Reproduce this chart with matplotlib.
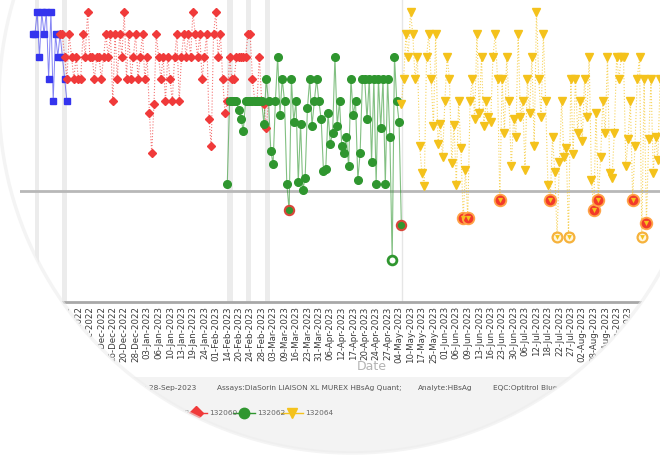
import matplotlib
matplotlib.use('Agg')
import numpy as np
import matplotlib.pyplot as plt
from matplotlib.path import Path
from matplotlib.patches import PathPatch, Rectangle
from matplotlib.lines import Line2D

# QC results per lot, in SD-like units (0 = the grey limit line)
blue_vals = [7, 7, 8, 6, 8, 7, 8, 5, 8, 4, 7, 6, 7, 6, 5, 4]
red_vals = [7, 7, 6, 5, 7, 6, 5, 6, 5, 5,
            7, 6, 8, 6, 6, 5, 6, 6, 5, 6,
            7, 6, 7, 4, 7, 5, 7, 6, 8, 5,
            7, 5, 6, 7, 5, 6, 7, 5, 6, 3.5,
            1.7, 3.9, 7, 6, 5, 6, 4, 6, 5, 4,
            6, 7, 4, 6, 7, 6, 7, 6, 8, 7,
            6, 7, 5, 6, 7, 3.2, 2.0, 7, 8, 6,
            7, 5, 3.5, 4, 6, 5, 5, 6, 6, 6,
            6, 6, 7, 7, 5, 4, 4, 6, 4, 3.9,
            2.8, 4]
green_vals = [0.3, 4, 4, 4, 4, 3.6, 3.2, 2.7, 4, 4,
              4, 4, 4, 4, 4, 4, 3.0, 5, 4, 1.8,
              1.2, 4, 6, 3.4, 5, 4, 0.3, -0.85, 5, 3.1,
              4, 0.4, 3.0, 0.05, 0.6, 3.7, 5, 2.9, 4, 5,
              4, 3.2, 0.9, 1.0, 3.5, 2.1, 2.6, 6, 2.9, 4,
              2.0, 1.7, 2.4, 1.1, 5, 3.4, 4, 0.5, 1.7, 5,
              5, 3.2, 5, 1.3, 5, 0.3, 5, 2.8, 5, 0.3,
              5, 2.4, -3.1, 6, 4, 3.1, -1.5]
yellow_vals = [3.9, 5, 7, 6, 8, 7, 5, 6, 2.0, 0.8,
               0.2, 6, 7, 5, 2.9, 7, 2.1, 3.0, 1.5, 4,
               6, 5, 1.25, 2.95, 0.27, 4, 1.9, -1.2, 0.94, -1.2,
               4, 5, 3.2, 7, 3.5, 6, 2.9, 4, 3.3, 3.1,
               6, 7, 5, -0.4, 5, 2.6, 6, 4, 1.1, 3.2,
               2.4, 7, 3.3, 4, 0.94, 5, 3.5, 6, 2.0, 8,
               5, 3.3, 7, 4, 0.27, -0.4, 2.4, 0.85, -2.05, 1.3,
               4, 1.5, 1.9, -2.05, 5, 1.65, 5, 2.6, 4, 2.25,
               5, 3.3, 6, 0.5, -0.85, 3.5, -0.4, 1.5, 4, 2.6,
               6, 0.8, 0.6, 2.6, 6, 5, 6, 6, 1.1, 2.3,
               4, -0.4, 2.0, 5, 6, -2.05, 5, -1.45, 2.3, 5,
               0.8, 2.4, 1.4, 5]
blue_start, red_start, green_start, yellow_start = 5, 17, 90, 166
lot_names = ['132058', '132060', '132062', '132064']

date_labels = ['02-Dec-2022', '06-Dec-2022', '09-Dec-2022', '13-Dec-2022', '16-Dec-2022',
               '20-Dec-2022', '28-Dec-2022', '03-Jan-2023', '06-Jan-2023', '10-Jan-2023',
               '13-Jan-2023', '19-Jan-2023', '24-Jan-2023', '01-Feb-2023', '14-Feb-2023',
               '20-Feb-2023', '24-Feb-2023', '28-Feb-2023', '03-Mar-2023', '09-Mar-2023',
               '16-Mar-2023', '23-Mar-2023', '31-Mar-2023', '06-Apr-2023', '12-Apr-2023',
               '17-Apr-2023', '20-Apr-2023', '24-Apr-2023', '27-Apr-2023', '04-May-2023',
               '10-May-2023', '17-May-2023', '25-May-2023', '01-Jun-2023', '06-Jun-2023',
               '09-Jun-2023', '13-Jun-2023', '16-Jun-2023', '23-Jun-2023', '30-Jun-2023',
               '06-Jul-2023', '12-Jul-2023', '18-Jul-2023', '22-Jul-2023', '27-Jul-2023',
               '02-Aug-2023', '08-Aug-2023', '11-Aug-2023', '16-Aug-2023', '22-Aug-2023']
event_runs = [(6, 8), (18, 20), (90, 92.5), (98, 100.5), (106.5, 108.5)]
lot_change_run = 166.3
limit_value = 0.0

W, H = 660, 459
fig = plt.figure(figsize=(W / 100, H / 100), dpi=100)
fig.patch.set_facecolor('white')
ax = fig.add_axes([20 / W, 1 - 302 / H, 650 / W, 302 / H])
ax.set_xlim(-0.5, 283.3)
ax.set_ylim(-4.96, 8.53)

for a, b in event_runs:
    ax.axvspan(a, b, color='#ececec', lw=0, zorder=0)
ax.axvline(lot_change_run, color='#e6e6e6', lw=1, zorder=0)
ax.axhline(limit_value, color='#b8b8b8', lw=2, zorder=1)


def draw_lot(vals, start, color, marker, ms, ls, lw, alpha):
    x = start + np.arange(len(vals))
    y = np.array(vals, dtype=float)
    ax.plot(x, y, ls=ls, color=color, lw=lw, alpha=alpha, zorder=2)
    ax.plot(x, y, ls='none', marker=marker, ms=ms, color=color, mec=color, zorder=3)
    return x, y


draw_lot(blue_vals, blue_start, '#3434ee', 's', 5, '-', 0.7, 0.6)
draw_lot(red_vals, red_start, '#f03a3a', 'D', 4.5, ':', 0.8, 0.7)
gx, gy = draw_lot(green_vals, green_start, '#2f962f', 'o', 5.5, '-', 0.8, 0.6)
yx, yy = draw_lot(yellow_vals, yellow_start, '#f4c21c', 'v', 5.5, ':', 0.8, 0.7)

# out-of-range results
g_mid = (gy < limit_value) & (gy > -1.9)
g_deep = gy <= -1.9
ax.scatter(gx[g_mid], gy[g_mid], s=45, c='#2f962f', edgecolors='#d8473a', linewidths=1.5, zorder=4)
ax.scatter(gx[g_deep], gy[g_deep], s=40, c='white', edgecolors='#2f962f', linewidths=2, zorder=4)

y_mid = (yy < limit_value) & (yy > -1.9)
y_deep = yy <= -1.9
ax.scatter(yx[y_mid], yy[y_mid], s=70, c='#f23a2a', edgecolors='#ffa347', linewidths=1.3, zorder=4)
ax.scatter(yx[y_mid], yy[y_mid], s=14, c='#f4c21c', marker='v', linewidths=0, zorder=5)
ax.scatter(yx[y_deep], yy[y_deep], s=50, c='#fff6dc', edgecolors='#f6b23c', linewidths=1.6, zorder=4)
ax.scatter(yx[y_deep], yy[y_deep], s=12, c='#f4c21c', marker='v', linewidths=0, zorder=5)

tick_runs = 20 + 5 * np.arange(len(date_labels))
ax.set_xticks(tick_runs)
ax.set_xticklabels(date_labels, rotation=90, fontsize=6.2, color='#3a3a3a')
ax.set_xticks(tick_runs[7::10], minor=True)
ax.tick_params(axis='x', which='major', length=0, pad=3)
ax.tick_params(axis='x', which='minor', length=4, width=1, color='#9a9a9a')
ax.set_yticks([])
for side in ['top', 'right', 'left']:
    ax.spines[side].set_visible(False)
ax.spines['bottom'].set_color('#a8a8a8')
ax.spines['bottom'].set_linewidth(2)

fig.text(372 / W, 1 - 367 / H, 'Date', ha='center', va='center', fontsize=9, color='#b3b3b3')

# footer band with run info and legend
fig.add_artist(Rectangle((0, 0), 1, 1 - 377 / H, transform=fig.transFigure,
                         facecolor='#f3f3f3', edgecolor='none', zorder=-1))
fy = 1 - 388 / H
fs = 5.3
fig.text(196 / W, fy, 'Date Range:01-Nov-2022 to 28-Sep-2023', ha='right', va='center', fontsize=fs, color='#555555')
fig.text(217 / W, fy, 'Assays:DiaSorin LIAISON XL MUREX HBsAg Quant;', ha='left', va='center', fontsize=fs, color='#555555')
fig.text(418 / W, fy, 'Analyte:HBsAg', ha='left', va='center', fontsize=fs, color='#555555')
fig.text(493 / W, fy, 'EQC:Optitrol Blue', ha='left', va='center', fontsize=fs, color='#555555')

ly = 1 - 413 / H
leg_colors = ['#3434ee', '#f03a3a', '#2f962f', '#f4c21c']
leg_markers = ['s', 'D', 'o', 'v']
for i, name in enumerate(lot_names):
    mx = 148 + 48 * i
    fig.add_artist(Line2D([(mx - 11) / W, (mx + 11) / W], [ly, ly], transform=fig.transFigure,
                          color=leg_colors[i], lw=1, zorder=2))
    fig.add_artist(Line2D([mx / W], [ly], transform=fig.transFigure, marker=leg_markers[i],
                          ms=7.5, color=leg_colors[i], ls='none', zorder=3))
    fig.text((mx + 13) / W, ly, name, ha='left', va='center', fontsize=fs, color='#666666')

# round lens mask over the screenshot
t = np.linspace(0, 2 * np.pi, 400)
cx, cy, r = 352, 100, 353
circ = np.column_stack([(cx + r * np.cos(t)) / W, 1 - (cy + r * np.sin(t)) / H])
area = 0.5 * np.sum(circ[:-1, 0] * circ[1:, 1] - circ[1:, 0] * circ[:-1, 1])
if area > 0:
    circ = circ[::-1]
rect = np.array([[-0.1, -0.1], [1.1, -0.1], [1.1, 1.1], [-0.1, 1.1], [-0.1, -0.1]])
verts = np.vstack([rect, circ])
codes = ([Path.MOVETO] + [Path.LINETO] * 3 + [Path.CLOSEPOLY]
         + [Path.MOVETO] + [Path.LINETO] * (len(circ) - 1))
mask = PathPatch(Path(verts, codes), transform=fig.transFigure, facecolor='white',
                 edgecolor='none', zorder=10)
fig.add_artist(mask)
fig.add_artist(Line2D(circ[:, 0], circ[:, 1], transform=fig.transFigure, color='#ededed',
                      lw=2.5, alpha=0.6, zorder=11))

fig.savefig('out.png', dpi=100)
